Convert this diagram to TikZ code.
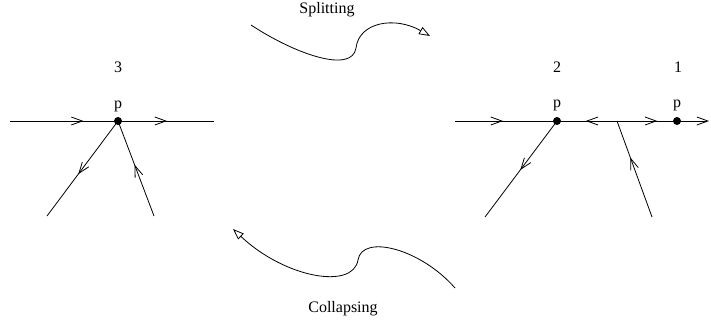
\documentclass[tikz,border=0pt]{standalone}
\usepackage{fontspec}
\setmainfont{Liberation Serif}
\usetikzlibrary{arrows.meta,decorations.markings}

\tikzset{
  edge/.style={line width=0.8pt},
  midarrow/.style={edge,postaction={decorate},
    decoration={markings,mark=at position #1 with {\arrow{Straight Barb[length=11pt,width=8pt,line width=0.8pt]}}}},
  dot/.style={circle,fill=black,minimum size=8pt,inner sep=0pt},
  lbl/.style={font=\fontsize{16}{19}\selectfont,anchor=base,inner sep=0pt},
  move/.style={line width=0.8pt,-{Triangle[open,length=11pt,width=8pt,line width=0.8pt]}},
}

\begin{document}
\begin{tikzpicture}[x=1pt,y=-1pt]
\useasboundingbox (0,0) rectangle (711,324);
% left picture: three edges meet in p
\coordinate (l3) at (10,121);
\coordinate (r3) at (214,121);
\coordinate (a3) at (47,216);
\coordinate (b3) at (154,216);
\node [dot] (p3) at (118,121) {};
\node [lbl] (p3lbl) at (118,108) {p};
\node [lbl] (n3) at (118,72) {3};
\draw [midarrow=0.68] (l3) -- (p3.center);
\draw [midarrow=0.51] (p3.center) -- (r3);
\draw [midarrow=0.56] (p3.center) -- (a3);
\draw [midarrow=0.54] (b3) -- (p3.center);
% right picture: p split in two
\coordinate (l2) at (455,121);
\coordinate (j) at (617,121);
\coordinate (r1) at (709,121);
\coordinate (a2) at (485,217);
\coordinate (b2) at (652,217);
\node [dot] (p2) at (557,121) {};
\node [dot] (p1) at (677,121) {};
\node [lbl] (p2lbl) at (557,107) {p};
\node [lbl] (p1lbl) at (677,107) {p};
\node [lbl] (n2) at (557,72) {2};
\node [lbl] (n1) at (678,72) {1};
\draw [midarrow=0.47] (l2) -- (p2.center);
\draw [midarrow=0.52] (j) -- (p2.center);
\draw [midarrow=0.67] (j) -- (p1.center);
\draw [edge,-{Straight Barb[length=11pt,width=8pt,line width=0.8pt]}] (p1.center) -- (r1);
\draw [midarrow=0.51] (p2.center) -- (a2);
\draw [midarrow=0.62] (b2) -- (j);
% moves between the two
\coordinate (splitS) at (251,25);
\coordinate (splitM) at (356,48);
\coordinate (splitE) at (430,36);
\node [lbl] (split) at (327,13) {Splitting};
\draw [move] (splitS) .. controls (295,54) and (352,74) .. (splitM)
  .. controls (359,22) and (395,16) .. (splitE);
\coordinate (collS) at (455,288);
\coordinate (collM) at (358,260);
\coordinate (collE) at (233,229);
\node [lbl] (coll) at (343,312) {Collapsing};
\draw [move] (collS) .. controls (420,248) and (362,234) .. (collM)
  .. controls (353,290) and (285,278) .. (collE);
\end{tikzpicture}
\end{document}
